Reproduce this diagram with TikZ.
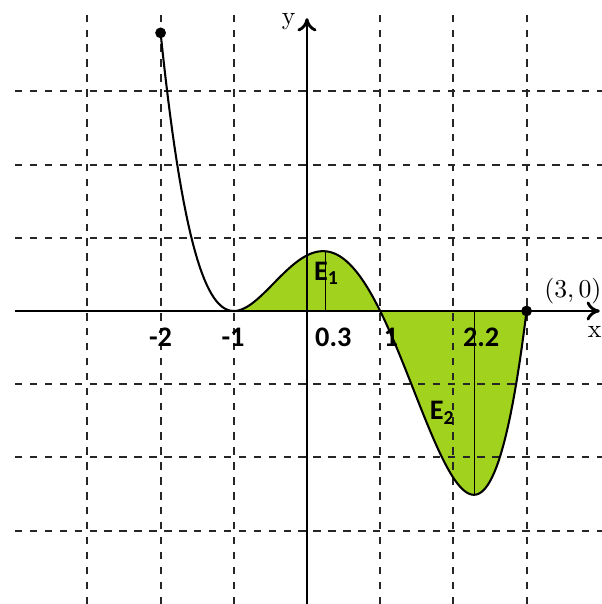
\documentclass[tikz,border=0pt]{standalone}
\usepackage{fontspec}
\newfontfamily\calibri{Carlito}
\usetikzlibrary{arrows.meta}
\definecolor{zold}{RGB}{160,210,30}
\tikzset{
  pont/.style={circle,fill,inner sep=0pt,minimum size=4.2pt},
  nyil/.style={-{To[length=1.8mm,width=2.6mm]}},
  racs/.style={black!85,line width=0.75pt,dash pattern=on 2.9pt off 2.9pt},
  tengely/.style={nyil,line width=1.1pt},
  gorbe/.style={line width=0.8pt},
  vek/.style={line width=0.45pt},
  cimke/.style={font=\calibri\bfseries\fontsize{11}{13}\selectfont},
}
\begin{document}
\begin{tikzpicture}
  \useasboundingbox (-4.194,-4.003) rectangle (4.030,4.249);
  \fill[zold,domain=-1:3,samples=120] plot (\x,{0.2533*(\x+1)*(\x+1)*(\x-1)*(\x-3)}) -- cycle;
  \draw[racs] (-3,-4.003) -- (-3,4.05) (-2,-4.003) -- (-2,4.05) (-1,-4.003) -- (-1,4.05)
    (1,-4.003) -- (1,4.05) (2,-4.003) -- (2,4.05) (3,-4.003) -- (3,4.05);
  \draw[racs] (-3.99,3) -- (4.03,3) (-3.99,2) -- (4.03,2) (-3.99,1) -- (4.03,1)
    (-3.99,-1) -- (4.03,-1) (-3.99,-2) -- (4.03,-2) (-3.99,-3) -- (4.03,-3);
  \draw[vek] (0.25,0) -- (0.25,0.816); \draw[vek] (2.29,0) -- (2.29,-2.511);
  \draw[tengely] (-3.99,0) -- (4.0,0);
  \draw[tengely] (0,-4.003) -- (0,4.0);
  \draw[gorbe,domain=-2:3,samples=160] plot (\x,{0.2533*(\x+1)*(\x+1)*(\x-1)*(\x-3)});
  \node[pont] (bal) at (-2,3.8) {};
  \node[pont] (jobb) at (3,0) {};
  \node (ycim) at (-0.25,3.96) {y};
  \node[anchor=east,inner sep=0pt] (xcim) at (4.03,-0.28) {x};
  \node[anchor=east,inner sep=0pt] (pont30) at (4.03,0.27) {$(3,0)$};
  \node[cimke] (mk2) at (-2.0,-0.36) {-2}; \node[cimke] (mk1) at (-1.01,-0.36) {-1};
  \node[cimke] (k03) at (0.36,-0.36) {0.3}; \node[cimke] (k1) at (1.15,-0.36) {1};
  \node[cimke] (k22) at (2.38,-0.36) {2.2};
  \node[cimke] (e1) at (0.27,0.51) {E\textsubscript{1}};
  \node[cimke] (e2) at (1.85,-1.39) {E\textsubscript{2}};
\end{tikzpicture}
\end{document}
